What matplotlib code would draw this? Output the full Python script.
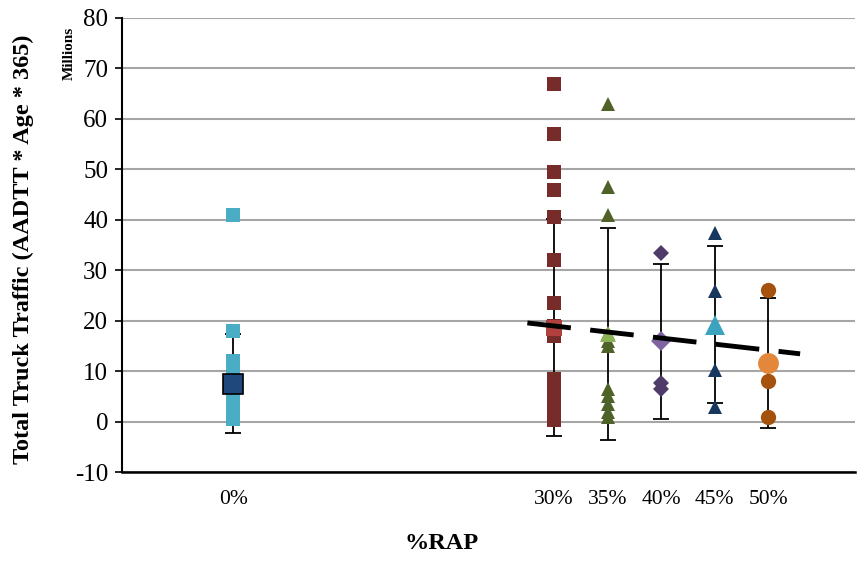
import numpy as np
import matplotlib.pyplot as plt

plt.rcParams['font.family'] = ['Liberation Serif', 'DejaVu Serif']
plt.rcParams['axes.unicode_minus'] = False

rap = [0, 30, 35, 40, 45, 50]
rap_labels = ["0%", "30%", "35%", "40%", "45%", "50%"]

# individual sections (millions of trucks)
traffic_0 = [41, 18, 12, 10, 8.5, 7, 6, 5, 4, 3, 2, 1, 0.5]
traffic_30 = [67, 57, 49.5, 46, 40.5, 32, 23.5, 19, 17, 8.5, 7, 5.5, 4, 3, 2, 1, 0.3]
traffic_35 = [63, 46.5, 41, 17.5, 16, 15, 6.5, 5, 3.5, 2, 1]
traffic_40 = [33.5, 16, 7.7, 6.5]
traffic_45 = [37.3, 25.8, 10.3, 2.8]
traffic_50 = [26, 8.1, 1.0]

# averages and standard deviations
means = [7.5, 18.6, 17.4, 15.9, 19.2, 11.7]
stdev = [9.8, 21.5, 21.0, 15.3, 15.6, 12.9]

point_colors = ["#4BACC6", "#772C2A", "#4F6228", "#4F3B69", "#17375E", "#A5520F"]
mean_colors = ["#1F497D", "#B0413E", "#8DB255", "#8064A2", "#3BA3BE", "#E3873A"]
markers = ["s", "s", "^", "D", "^", "o"]
sizes = [10, 10, 10, 8, 10, 11]
mean_sizes = [15, 11, 11, 10, 14, 15]

fig = plt.figure(figsize=(8.64, 5.62), dpi=100)
ax = fig.add_axes([0.1412, 0.160, 0.848, 0.808])

groups = [traffic_0, traffic_30, traffic_35, traffic_40, traffic_45, traffic_50]
for i, vals in enumerate(groups):
    x = rap[i]
    ax.errorbar(x, means[i], yerr=stdev[i], fmt="none", ecolor="black",
                elinewidth=1.3, capsize=6, capthick=1.3, zorder=2)
    ax.plot([x] * len(vals), vals, linestyle="none", marker=markers[i],
            markersize=sizes[i], color=point_colors[i], markeredgewidth=0, zorder=3)
    edge = "black" if i == 0 else mean_colors[i]
    ax.plot(x, means[i], linestyle="none", marker=markers[i], markersize=mean_sizes[i],
            color=mean_colors[i], markeredgecolor=edge, markeredgewidth=1.2 if i == 0 else 0,
            zorder=4)

# linear trend of the means for RAP mixes
coef = np.polyfit(rap[1:], means[1:], 1)
xt = np.array([27.5, 53])
ax.plot(xt, np.polyval(coef, xt), color="black", lw=3.5, dashes=(9, 4),
        dash_capstyle="butt", zorder=5)

ax.set_xlim(-10.4, 58.1)
ax.set_ylim(-10, 80)
ax.set_yticks(range(-10, 81, 10))
ax.set_xticks(rap)
ax.set_xticklabels(rap_labels, fontsize=15.5)
ax.tick_params(axis="x", length=0, pad=13)
ax.tick_params(axis="y", labelsize=18, direction="out", length=5, width=1.2, pad=5)
ax.yaxis.grid(True, color="#A6A6A6", lw=1.5)
ax.set_axisbelow(True)

for s in ["top", "right"]:
    ax.spines[s].set_visible(False)
ax.spines["left"].set_linewidth(1.5)
ax.spines["bottom"].set_linewidth(1.8)

ax.set_ylabel("Total Truck Traffic (AADTT * Age * 365)", fontsize=17.5, fontweight="bold")
ax.yaxis.set_label_coords(-0.12, 0.49)
ax.set_xlabel("%RAP", fontsize=17.5, fontweight="bold")
ax.xaxis.set_label_coords(0.436, -0.135)
fig.text(0.080, 0.905, "Millions", rotation=90, fontsize=11, fontweight="bold",
         ha="center", va="center")

fig.savefig("out.png", dpi=100)
